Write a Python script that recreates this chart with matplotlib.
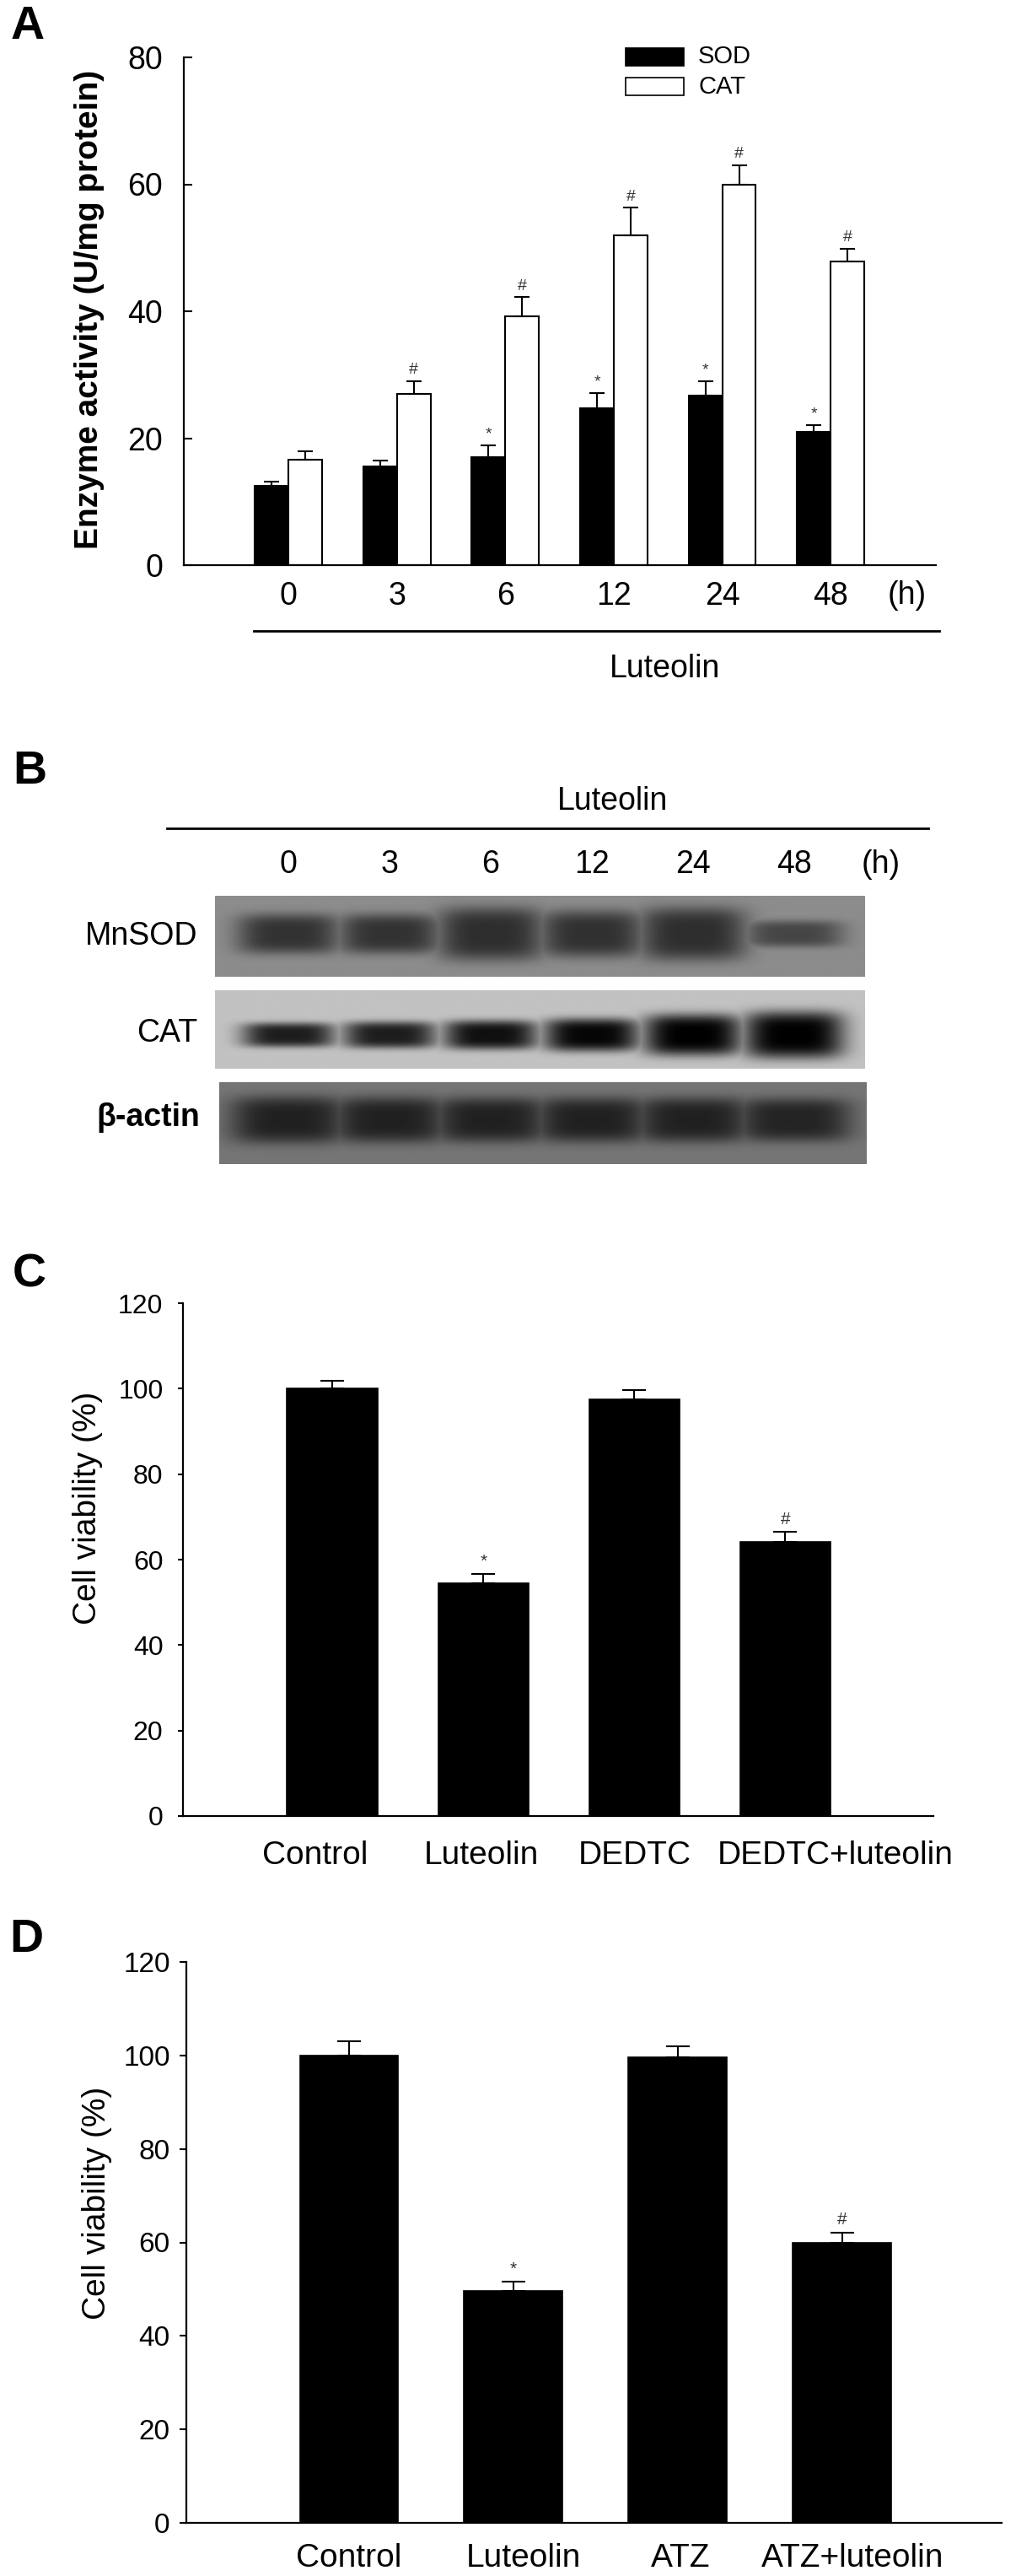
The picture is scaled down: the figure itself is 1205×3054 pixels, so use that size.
import numpy as np
import matplotlib
matplotlib.use("Agg")
import matplotlib.pyplot as plt
from matplotlib.patches import Rectangle
from matplotlib.transforms import blended_transform_factory, ScaledTranslation

plt.rcParams['font.family'] = ['Liberation Sans', 'DejaVu Sans']

# ---- data ----
times = ['0', '3', '6', '12', '24', '48']
sod = [12.5, 15.6, 17.0, 24.7, 26.7, 21.0]
sod_err = [0.7, 0.9, 1.9, 2.4, 2.3, 1.1]
sod_sig = ['', '', '*', '*', '*', '*']
cat = [16.6, 27.0, 39.2, 52.0, 60.0, 47.9]
cat_err = [1.3, 2.0, 3.0, 4.3, 3.0, 2.0]
cat_sig = ['', '#', '#', '#', '#', '#']

# western blot: band darkness and relative band size, per lane
mnsod_dens = [0.95, 0.95, 1.0, 0.97, 1.0, 0.75]
mnsod_size = [0.75, 0.75, 1.0, 0.88, 1.0, 0.5]
catwb_dens = [0.85, 0.85, 0.92, 0.97, 1.0, 1.0]
catwb_size = [0.52, 0.57, 0.62, 0.7, 0.88, 1.0]
actin_dens = [1.0, 1.0, 1.0, 1.0, 1.0, 0.97]
actin_size = [1.0, 0.97, 0.95, 0.95, 0.95, 0.92]

groups_c = ['Control', 'Luteolin', 'DEDTC', 'DEDTC+luteolin']
via_c = [100.0, 54.5, 97.5, 64.1]
via_c_err = [1.9, 2.1, 2.1, 2.4]
sig_c = ['', '*', '', '#']

groups_d = ['Control', 'Luteolin', 'ATZ', 'ATZ+luteolin']
via_d = [100.0, 49.7, 99.6, 60.0]
via_d_err = [3.0, 1.9, 2.4, 2.1]
sig_d = ['', '*', '', '#']

W, H = 1205, 3054
fig = plt.figure(figsize=(W / 100, H / 100), dpi=100)


def px_axes(l, t, r, b):
    return fig.add_axes([l / W, 1 - b / H, (r - l) / W, (b - t) / H])


over = fig.add_axes([0, 0, 1, 1])
over.set_xlim(0, W)
over.set_ylim(H, 0)
over.axis('off')
over.patch.set_alpha(0)
over.set_zorder(10)

# ---- panel A ----
axA = px_axes(218, 68, 1110, 670)
x = np.arange(len(times))
w = 0.31
axA.bar(x - w / 2, sod, w, color='black', edgecolor='black', lw=1.5)
axA.bar(x + w / 2, cat, w, color='white', edgecolor='black', lw=1.5)
for xs, vals, errs, sig in [(x - w / 2, sod, sod_err, sod_sig), (x + w / 2, cat, cat_err, cat_sig)]:
    axA.errorbar(xs, vals, yerr=[np.zeros(len(vals)), errs], fmt='none', ecolor='black',
                 elinewidth=1.5, capsize=6.5, capthick=1.5)
    for xi, v, e, s in zip(xs, vals, errs, sig):
        if s:
            axA.text(xi, v + e + 0.6, s, ha='center', va='bottom', fontsize=14, color='#333333')
axA.set_xlim(-0.964, 5.97)
axA.set_ylim(0, 80)
axA.set_yticks([0, 20, 40, 60, 80])
axA.set_xticks(x, times)
axA.tick_params(axis='x', length=0, pad=14, labelsize=27)
axA.tick_params(axis='y', direction='in', length=7, width=1.5, pad=18, labelsize=27)
for s in ['top', 'right']:
    axA.spines[s].set_visible(False)
for s in ['left', 'bottom']:
    axA.spines[s].set_linewidth(1.6)

over.text(33, 32, 'A', fontsize=40, fontweight='bold', ha='center', va='center')
over.text(106, 367, 'Enzyme activity (U/mg protein)', fontsize=28, fontweight='bold',
          rotation=90, ha='center', va='center')
over.text(1076, 706, '(h)', fontsize=27, ha='center', va='center')
over.plot([301, 1114], [748, 748], color='black', lw=2)
over.text(788, 793, 'Luteolin', fontsize=27, ha='center', va='center')
# legend
over.add_patch(Rectangle((742, 57), 69, 21, facecolor='black', edgecolor='black', lw=1.2))
over.add_patch(Rectangle((742, 92), 69, 21, facecolor='white', edgecolor='black', lw=1.2))
over.text(828, 67, 'SOD', fontsize=21, ha='left', va='center')
over.text(828, 103, 'CAT', fontsize=21, ha='left', va='center')

# ---- panel B (western blot) ----
lane0, lane_step = 342, 120


def blot(ax, l, r, dens, size, bg, dark, yc, hh, hw):
    xl = ((l - lane0) / lane_step, (r - lane0) / lane_step)
    xx = np.linspace(xl[0], xl[1], 600)
    yy = np.linspace(0, 1, 150)
    dark_map = np.zeros((len(yy), len(xx)))
    for i, (d, s) in enumerate(zip(dens, size)):
        h = hh * s
        ww = hw * (0.85 + 0.15 * s)
        prof = (np.exp(-np.abs((xx - i) / ww) ** 4)[None, :]
                * np.exp(-np.abs((yy - yc) / h) ** 4)[:, None])
        dark_map = np.maximum(dark_map, d * prof)
    img = bg - (bg - dark) * dark_map
    ax.imshow(img, cmap='gray', vmin=0, vmax=1, extent=(xl[0], xl[1], 1, 0),
              aspect='auto', interpolation='bilinear')
    ax.set_xlim(*xl)
    ax.set_ylim(1, 0)
    ax.axis('off')


axM = px_axes(255, 1062, 1026, 1158)
blot(axM, 255, 1026, mnsod_dens, mnsod_size, 0.55, 0.18, 0.47, 0.33, 0.53)
axCw = px_axes(255, 1174, 1026, 1267)
blot(axCw, 255, 1026, catwb_dens, catwb_size, 0.76, 0.0, 0.57, 0.3, 0.5)
axAc = px_axes(260, 1283, 1028, 1380)
blot(axAc, 260, 1028, actin_dens, actin_size, 0.46, 0.13, 0.46, 0.29, 0.58)

over.text(35, 915, 'B', fontsize=40, fontweight='bold', ha='center', va='center')
over.text(726, 950, 'Luteolin', fontsize=27, ha='center', va='center')
over.plot([198, 1101], [982, 982], color='black', lw=2)
tr = blended_transform_factory(axM.transData, over.transData)
for i, t in enumerate(times):
    over.text(i, 1025, t, transform=tr, fontsize=27, ha='center', va='center')
over.text(1045, 1025, '(h)', fontsize=27, ha='center', va='center')
over.text(234, 1110, 'MnSOD', fontsize=27, ha='right', va='center')
over.text(234, 1225, 'CAT', fontsize=27, ha='right', va='center')
over.text(237, 1325, 'β-actin', fontsize=27, fontweight='bold', ha='right', va='center')


# ---- panels C and D ----
def viab_panel(box, xlim, groups, vals, errs, sig, ysize, ypad, ylen, xpad, label_shift):
    ax = px_axes(*box)
    xi = np.arange(len(groups))
    ax.bar(xi, vals, 0.6, color='black', edgecolor='black', lw=1.2)
    ax.errorbar(xi, vals, yerr=[np.zeros(len(vals)), errs], fmt='none', ecolor='black',
                elinewidth=1.5, capsize=10, capthick=1.5)
    for xv, v, e, s in zip(xi, vals, errs, sig):
        if s:
            ax.text(xv, v + e + 1.0, s, ha='center', va='bottom', fontsize=15, color='#333333')
    ax.set_xlim(*xlim)
    ax.set_ylim(0, 120)
    ax.set_yticks(np.arange(0, 121, 20))
    ax.set_xticks(xi, groups)
    ax.tick_params(axis='x', length=0, pad=xpad, labelsize=28)
    ax.tick_params(axis='y', direction='out', length=ylen, width=1.5, pad=ypad, labelsize=ysize)
    for lab, dx in zip(ax.get_xticklabels(), label_shift):
        lab.set_transform(lab.get_transform() + ScaledTranslation(dx / 100, 0, fig.dpi_scale_trans))
    for s in ['top', 'right']:
        ax.spines[s].set_visible(False)
    for s in ['left', 'bottom']:
        ax.spines[s].set_linewidth(1.6)
    return ax


viab_panel((217, 1545, 1107, 2153), (-0.989, 3.98), groups_c, via_c, via_c_err, sig_c,
           23, 13, 4, 21, [-20, -2, 0, 59])
over.text(35, 1511, 'C', fontsize=40, fontweight='bold', ha='center', va='center')
over.text(104, 1788, 'Cell viability (%)', fontsize=28, rotation=90, ha='center', va='center')

viab_panel((221, 2326, 1188, 2991), (-0.99, 3.97), groups_d, via_d, via_d_err, sig_d,
           24, 8, 6, 17, [0, 12, 3, 12])
over.text(31, 2300, 'D', fontsize=40, fontweight='bold', ha='center', va='center')
over.text(115, 2612, 'Cell viability (%)', fontsize=28, rotation=90, ha='center', va='center')

fig.savefig('out.png', dpi=100)
